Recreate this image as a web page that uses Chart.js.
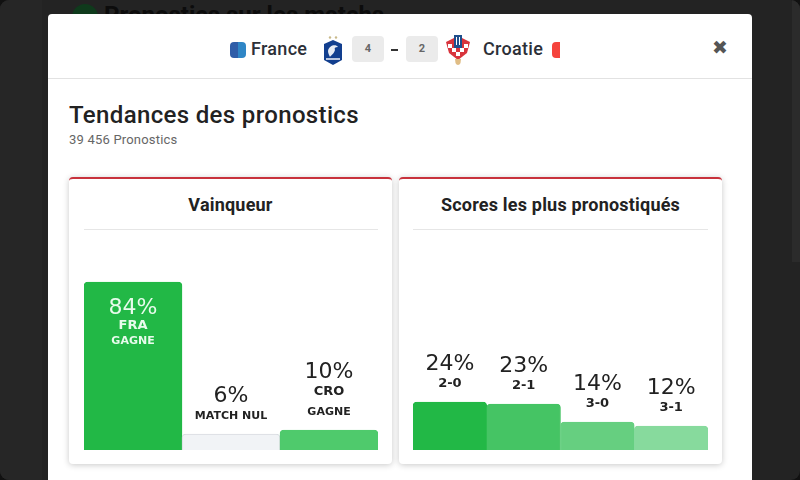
<!DOCTYPE html>
<html>
<head>
<meta charset="utf-8">
<script src="https://cdn.jsdelivr.net/npm/chart.js@4"></script>
<style>
    html, body { margin: 0; padding: 0; width: 800px; height: 480px; overflow: hidden; background: #111; }
    body { font-family: "Roboto", sans-serif; position: relative; }
    .abs { position: absolute; white-space: nowrap; }
    .page { left: 0; top: 0; width: 800px; height: 480px; background: #232323; border-radius: 9px; overflow: hidden; }
    .modal { left: 48px; top: 14px; width: 704px; height: 480px; background: #fff; border-radius: 4px 4px 0 0; }
    .card { width: 323px; height: 287px; top: 177px; background: #fff; border-top: 2px solid #c8323c; border-radius: 4px; box-sizing: border-box; box-shadow: 0 1px 6px rgba(0,0,0,.22); }
    .cardTitle { top: 194px; height: 22px; line-height: 22px; font-size: 18px; font-weight: 700; color: #222; text-align: center; letter-spacing: .2px; }
    .sep { top: 229px; height: 1px; background: #e6e6e6; }
    .team { top: 38px; line-height: 22px; font-size: 18px; font-weight: 500; color: #2c3038; letter-spacing: .3px; }
    .score { top: 36px; width: 32px; height: 26px; line-height: 26px; background: #ebebeb; border-radius: 4px; text-align: center; font-size: 11px; font-weight: 700; color: #666; }
    canvas { position: absolute; }
</style>
</head>
<body>
    <div class="abs page">
        <div class="abs" style="left:0;top:0;width:42px;height:480px;background:#262626"></div>
        <div class="abs" style="left:72px;top:4px;width:26px;height:26px;border-radius:50%;background:#0f3a1c"></div>
        <div class="abs" style="left:104px;top:1px;font-size:24px;font-weight:700;color:#0c0c0c;line-height:28px">Pronostics sur les matchs</div>
        <div class="abs" style="left:792px;top:0;width:8px;height:262px;background:#2b2b2b"></div>
    </div>

    <div class="abs modal"></div>
    <div class="abs" style="left:48px;top:78px;width:704px;height:1px;background:#e2e2e2"></div>

    <div class="abs" style="left:230px;top:42px;width:16px;height:16px;border-radius:4px;background:linear-gradient(90deg,#2f5da8 50%,#2f86c6 50%)"></div>
    <div class="abs team" style="left:251px">France</div>
    <svg class="abs" style="left:322px;top:35px" width="22" height="30" viewBox="0 0 22 30">
        <path d="M2 9 L11 5 L20 9 V25 L11 30 L2 25 Z" fill="#123f8f"/>
        <path d="M6 16 C7 10 14 9 16 12 C13 12 12 13 13 15 C12 19 9 20 8 22 C7 20 6 18 6 16 Z" fill="#fff" opacity=".9"/>
        <rect x="4" y="23" width="14" height="2" fill="#fff" opacity=".7"/>
        <circle cx="8" cy="2.5" r="1.2" fill="#c9b98a"/><circle cx="14" cy="2.5" r="1.2" fill="#c9b98a"/>
    </svg>
    <div class="abs score" style="left:352px">4</div>
    <div class="abs" style="left:391px;top:49px;width:7px;height:2px;background:#333"></div>
    <div class="abs score" style="left:406px">2</div>
    <svg class="abs" style="left:446px;top:34px" width="24" height="32" viewBox="0 0 24 32">
        <path d="M0 8 L12 2 L24 8 L21 19 L12 26 L3 19 Z" fill="#d8343c"/>
        <rect x="2" y="10" width="4" height="4" fill="#fff"/><rect x="18" y="10" width="4" height="4" fill="#fff"/>
        <rect x="6" y="14" width="4" height="4" fill="#fff"/><rect x="14" y="14" width="4" height="4" fill="#fff"/>
        <rect x="10" y="18" width="4" height="4" fill="#fff"/>
        <rect x="8" y="1" width="8" height="13" fill="#1f4e8c"/>
        <rect x="10" y="3" width="1" height="8" fill="#fff"/><rect x="13" y="3" width="1" height="8" fill="#fff"/>
        <path d="M9 25 L15 25 L14.5 29 C13.5 31.5 10.5 31.5 9.5 29 Z" fill="#e0bd85"/>
    </svg>
    <div class="abs team" style="left:483px">Croatie</div>
    <div class="abs" style="left:552px;top:42px;width:8px;height:16px;border-radius:4px 0 0 4px;background:#f5433c"></div>
    <div class="abs" style="left:712px;top:35px;font-size:19px;line-height:24px;color:#555;font-family:'DejaVu Sans'">✖</div>

    <div class="abs" style="left:69px;top:100px;font-size:24px;line-height:30px;font-weight:500;color:#222;letter-spacing:.35px">Tendances des pronostics</div>
    <div class="abs" style="left:69px;top:132px;font-size:13px;line-height:16px;color:#666;letter-spacing:.2px">39 456 Pronostics</div>

    <div class="abs card" style="left:69px"></div>
    <div class="abs card" style="left:399px"></div>
    <div class="abs cardTitle" style="left:69px;width:323px">Vainqueur</div>
    <div class="abs cardTitle" style="left:399px;width:323px">Scores les plus pronostiqués</div>
    <div class="abs sep" style="left:84px;width:294px"></div>
    <div class="abs sep" style="left:413px;width:295px"></div>

    <canvas id="winnerChart" style="left:84px;top:250px" width="294" height="200"></canvas>
    <canvas id="scoresChart" style="left:413px;top:250px" width="295" height="200"></canvas>

<script>
    // percentages as printed; the draw bar is drawn a bit taller than its 6% in the picture
    const winnerValues = [84, 6, 10];
    const winnerBars = [84, 8, 10];
    const winnerTeams = ['FRA', 'MATCH NUL', 'CRO'];
    const winnerLines = ['GAGNE', '', 'GAGNE'];
    const winnerColors = ['#22b846', '#f1f3f6', '#4fca6c'];
    const winnerBorders = ['#22b846', '#d8dbe0', '#4fca6c'];

    const scoreLabels = ['2-0', '2-1', '3-0', '3-1'];
    const scoreValues = [24, 23, 14, 12];
    const scoreColors = ['#22b846', '#45c464', '#66cf80', '#87da9d'];

    const bigFont = '400 22px "DejaVu Sans"';
    const teamFont = '700 13px "DejaVu Sans"';
    const smallFont = '700 11px "DejaVu Sans"';

    // draws the texts above (or inside) each bar
    const barText = {
        id: 'barText',
        afterDatasetsDraw(chart, args, opts) {
            const ctx = chart.ctx;
            const bars = chart.getDatasetMeta(0).data;
            ctx.save();
            ctx.textAlign = 'center';
            ctx.textBaseline = 'alphabetic';
            bars.forEach((bar, i) => {
                const inside = chart.data.datasets[0].data[i] > 50;
                const rows = opts.rows(i, inside);
                ctx.fillStyle = inside ? '#e8fbec' : '#222';
                rows.forEach(row => {
                    ctx.font = row.font;
                    ctx.fillText(row.text, bar.x, bar.y + row.dy);
                });
            });
            ctx.restore();
        }
    };

    function makeChart(id, labels, values, colors, borders, rows) {
        new Chart(document.getElementById(id), {
            type: 'bar',
            data: {
                labels: labels,
                datasets: [{
                    data: values,
                    backgroundColor: colors,
                    borderColor: borders,
                    borderWidth: 1,
                    borderRadius: { topLeft: 4, topRight: 4 },
                    borderSkipped: 'bottom',
                    barPercentage: 1,
                    categoryPercentage: 1
                }]
            },
            options: {
                responsive: false,
                animation: false,
                layout: { padding: 0 },
                plugins: {
                    legend: { display: false },
                    tooltip: { enabled: false },
                    barText: { rows: rows }
                },
                scales: {
                    x: { display: false },
                    y: { display: false, min: 0, max: 100 }
                }
            },
            plugins: [barText]
        });
    }

    makeChart('winnerChart', winnerTeams, winnerBars, winnerColors, winnerBorders, function (i, inside) {
        if (inside) {
            return [
                { text: winnerValues[i] + '%', font: bigFont, dy: 32 },
                { text: winnerTeams[i], font: teamFont, dy: 47 },
                { text: winnerLines[i], font: smallFont, dy: 62 }
            ];
        }
        if (winnerLines[i]) {
            return [
                { text: winnerValues[i] + '%', font: bigFont, dy: -52 },
                { text: winnerTeams[i], font: teamFont, dy: -35 },
                { text: winnerLines[i], font: smallFont, dy: -15 }
            ];
        }
        return [
            { text: winnerValues[i] + '%', font: bigFont, dy: -32 },
            { text: winnerTeams[i], font: smallFont, dy: -15 }
        ];
    });

    makeChart('scoresChart', scoreLabels, scoreValues, scoreColors, scoreColors, function (i) {
        return [
            { text: scoreValues[i] + '%', font: bigFont, dy: -32 },
            { text: scoreLabels[i], font: teamFont, dy: -15 }
        ];
    });
</script>
</body>
</html>
